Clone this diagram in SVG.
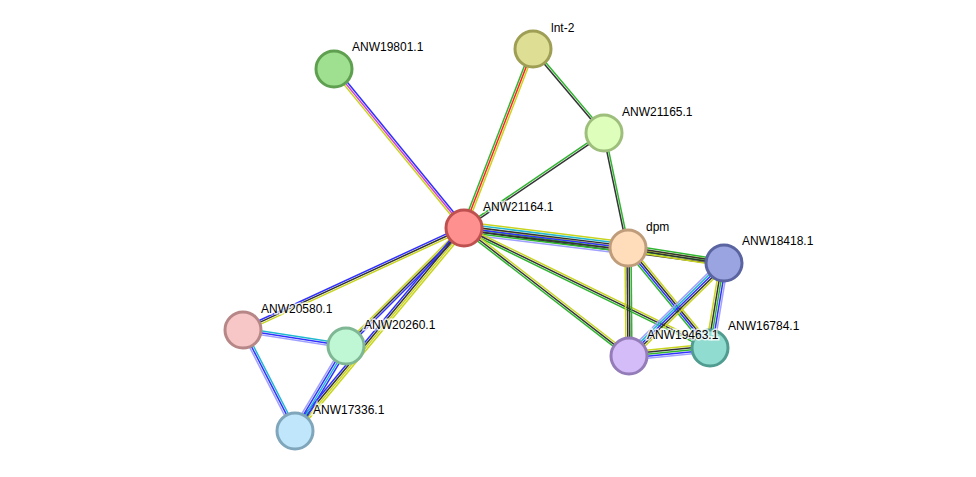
<svg xmlns="http://www.w3.org/2000/svg" width="976" height="477" viewBox="0 0 976 477">
<style>
line{stroke-width:1.5}
.y{stroke:#c8d41e}.g{stroke:#2fb52f}.k{stroke:#333}.b{stroke:#3030ff}.c{stroke:#20b8d0}.l{stroke:#a0a0ff}.m{stroke:#d040d0}.r{stroke:#ff2020}
circle{stroke-width:3}
text{font-family:"Liberation Sans",Arial,sans-serif;font-size:12px;fill:#000;paint-order:stroke;stroke:#fff;stroke-width:3px;stroke-opacity:0.8}
</style>
<rect width="976" height="477" fill="#fff"/>
<g id="connectors">
<g transform="translate(464,228) rotate(-129.3)"><line class="y" x1="0" y1="-2" x2="205" y2="-2"/><line class="m" x1="0" y1="0" x2="205" y2="0"/><line class="b" x1="0" y1="2" x2="205" y2="2"/></g>
<g transform="translate(464,228) rotate(-68.9)"><line class="g" x1="0" y1="-2" x2="192" y2="-2"/><line class="r" x1="0" y1="0" x2="192" y2="0"/><line class="y" x1="0" y1="2" x2="192" y2="2"/></g>
<g transform="translate(464,228) rotate(-34.2)"><line class="g" x1="0" y1="-1" x2="169" y2="-1"/><line class="k" x1="0" y1="1" x2="169" y2="1"/></g>
<g transform="translate(533,49) rotate(49.8)"><line class="g" x1="0" y1="-1" x2="110" y2="-1"/><line class="k" x1="0" y1="1" x2="110" y2="1"/></g>
<g transform="translate(604,133) rotate(78.2)"><line class="g" x1="0" y1="-1" x2="117" y2="-1"/><line class="k" x1="0" y1="1" x2="117" y2="1"/></g>
<g transform="translate(464,228) rotate(7.7)"><line class="y" x1="0" y1="-2" x2="262" y2="-2"/><line class="g" x1="0" y1="0" x2="262" y2="0"/><line class="k" x1="0" y1="2" x2="262" y2="2"/></g>
<g transform="translate(464,228) rotate(7.0)"><line class="y" x1="0" y1="-6" x2="165" y2="-6"/><line class="c" x1="0" y1="-4" x2="165" y2="-4"/><line class="k" x1="0" y1="-2" x2="165" y2="-2"/><line class="b" x1="0" y1="0" x2="165" y2="0"/><line class="k" x1="0" y1="2" x2="165" y2="2"/><line class="g" x1="0" y1="4" x2="165" y2="4"/><line class="l" x1="0" y1="6" x2="165" y2="6"/></g>
<g transform="translate(464,228) rotate(26.0)"><line class="y" x1="0" y1="-2" x2="274" y2="-2"/><line class="k" x1="0" y1="0" x2="274" y2="0"/><line class="g" x1="0" y1="2" x2="274" y2="2"/></g>
<g transform="translate(464,228) rotate(37.8)"><line class="y" x1="0" y1="-2" x2="209" y2="-2"/><line class="k" x1="0" y1="0" x2="209" y2="0"/><line class="g" x1="0" y1="2" x2="209" y2="2"/></g>
<g transform="translate(628,248) rotate(8.9)"><line class="g" x1="0" y1="-3" x2="97" y2="-3"/><line class="k" x1="0" y1="-1" x2="97" y2="-1"/><line class="k" x1="0" y1="1" x2="97" y2="1"/><line class="y" x1="0" y1="3" x2="97" y2="3"/></g>
<g transform="translate(628,248) rotate(89.5)"><line class="g" x1="0" y1="-3" x2="108" y2="-3"/><line class="k" x1="0" y1="-1" x2="108" y2="-1"/><line class="k" x1="0" y1="1" x2="108" y2="1"/><line class="y" x1="0" y1="3" x2="108" y2="3"/></g>
<g transform="translate(628,248) rotate(50.6)"><line class="y" x1="0" y1="-3" x2="129" y2="-3"/><line class="k" x1="0" y1="-1" x2="129" y2="-1"/><line class="b" x1="0" y1="1" x2="129" y2="1"/><line class="g" x1="0" y1="3" x2="129" y2="3"/></g>
<g transform="translate(724,263) rotate(135.6)"><line class="y" x1="0" y1="-4" x2="133" y2="-4"/><line class="k" x1="0" y1="-2" x2="133" y2="-2"/><line class="b" x1="0" y1="0" x2="133" y2="0"/><line class="c" x1="0" y1="2" x2="133" y2="2"/><line class="l" x1="0" y1="4" x2="133" y2="4"/></g>
<g transform="translate(724,263) rotate(99.4)"><line class="l" x1="0" y1="-4" x2="86" y2="-4"/><line class="b" x1="0" y1="-2" x2="86" y2="-2"/><line class="g" x1="0" y1="0" x2="86" y2="0"/><line class="k" x1="0" y1="2" x2="86" y2="2"/><line class="y" x1="0" y1="4" x2="86" y2="4"/></g>
<g transform="translate(629,356) rotate(-5.6)"><line class="y" x1="0" y1="-4" x2="81" y2="-4"/><line class="k" x1="0" y1="-2" x2="81" y2="-2"/><line class="g" x1="0" y1="0" x2="81" y2="0"/><line class="b" x1="0" y1="2" x2="81" y2="2"/><line class="l" x1="0" y1="4" x2="81" y2="4"/></g>
<g transform="translate(464,228) rotate(155.2)"><line class="b" x1="0" y1="2" x2="243" y2="2"/><line class="k" x1="0" y1="0" x2="243" y2="0"/><line class="y" x1="0" y1="-2" x2="243" y2="-2"/></g>
<g transform="translate(464,228) rotate(135)"><line class="y" x1="0" y1="2" x2="167" y2="2"/><line class="k" x1="0" y1="0" x2="167" y2="0"/><line class="b" x1="0" y1="-2" x2="167" y2="-2"/></g>
<g transform="translate(464,228) rotate(129.8)"><line class="b" x1="0" y1="3" x2="264" y2="3"/><line class="k" x1="0" y1="1" x2="264" y2="1"/><line class="y" x1="0" y1="-1" x2="264" y2="-1"/><line class="y" x1="0" y1="-3" x2="264" y2="-3"/></g>
<g transform="translate(243,330) rotate(8.8)"><line class="c" x1="0" y1="-2" x2="104" y2="-2"/><line class="b" x1="0" y1="0" x2="104" y2="0"/><line class="l" x1="0" y1="2" x2="104" y2="2"/></g>
<g transform="translate(243,330) rotate(62.8)"><line class="c" x1="0" y1="-2" x2="114" y2="-2"/><line class="b" x1="0" y1="0" x2="114" y2="0"/><line class="l" x1="0" y1="2" x2="114" y2="2"/></g>
<g transform="translate(346,346) rotate(121)"><line class="b" x1="0" y1="-3" x2="99" y2="-3"/><line class="c" x1="0" y1="-1" x2="99" y2="-1"/><line class="b" x1="0" y1="1" x2="99" y2="1"/><line class="l" x1="0" y1="3" x2="99" y2="3"/></g>
</g>
<g id="ANW19801.1"><circle cx="334" cy="69" r="18" fill="#9fdf90" stroke="#5f9f50"/><text x="352" y="51">ANW19801.1</text></g>
<g id="lnt-2"><circle cx="533" cy="49" r="18" fill="#dede94" stroke="#9e9e54"/><text x="551" y="32">lnt-2</text></g>
<g id="ANW21165.1"><circle cx="604" cy="133" r="18" fill="#ddffbb" stroke="#9dbf7b"/><text x="622" y="116">ANW21165.1</text></g>
<g id="ANW21164.1"><circle cx="464" cy="228" r="18" fill="#ff9090" stroke="#bf5050"/><text x="483" y="211">ANW21164.1</text></g>
<g id="dpm"><circle cx="628" cy="248" r="18" fill="#ffddbb" stroke="#bf9d7b"/><text x="646" y="231">dpm</text></g>
<g id="ANW18418.1"><circle cx="724" cy="263" r="18" fill="#9aa4e0" stroke="#5a64a0"/><text x="742" y="245">ANW18418.1</text></g>
<g id="ANW16784.1"><circle cx="710" cy="348" r="18" fill="#90dcd0" stroke="#509c90"/><text x="728" y="330">ANW16784.1</text></g>
<g id="ANW19463.1"><circle cx="629" cy="356" r="18" fill="#d4bcf8" stroke="#947cb8"/><text x="647" y="339">ANW19463.1</text></g>
<g id="ANW20580.1"><circle cx="243" cy="330" r="18" fill="#f7c7c7" stroke="#b78787"/><text x="261" y="313">ANW20580.1</text></g>
<g id="ANW20260.1"><circle cx="346" cy="346" r="18" fill="#bff7d5" stroke="#7fb795"/><text x="364" y="329">ANW20260.1</text></g>
<g id="ANW17336.1"><circle cx="295" cy="431" r="18" fill="#bfe6fb" stroke="#7fa6bb"/><text x="313" y="414">ANW17336.1</text></g>
</svg>
